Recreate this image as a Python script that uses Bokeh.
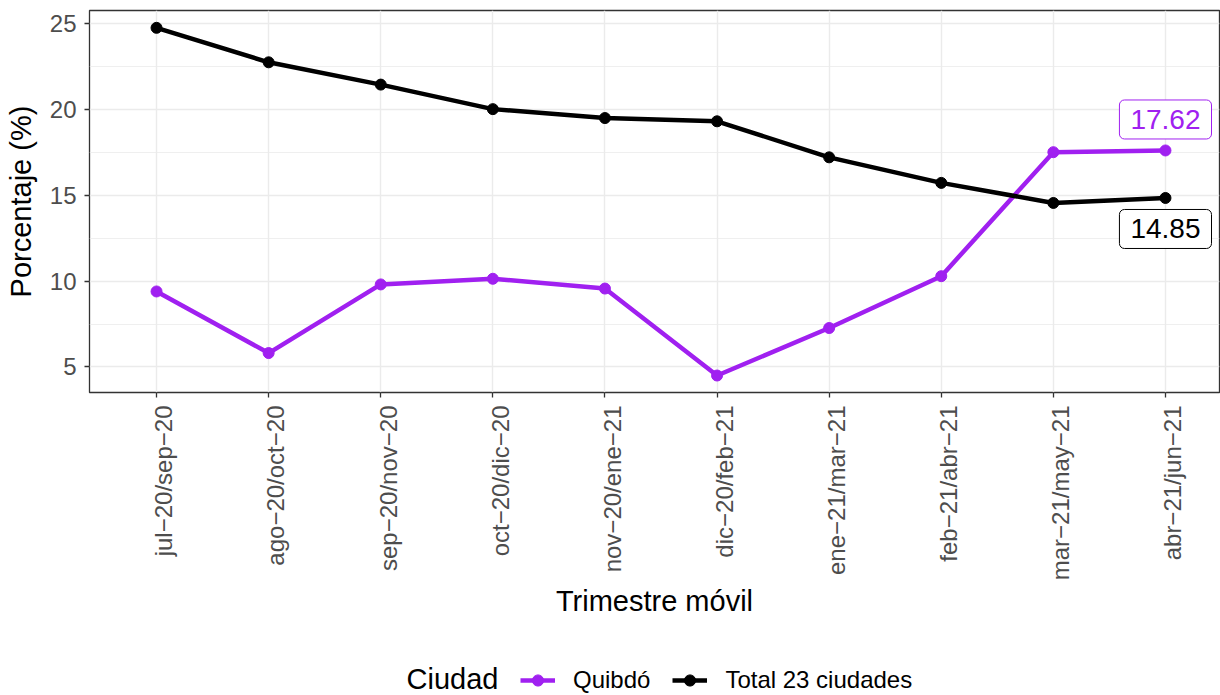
import numpy as np
from bokeh.plotting import figure
from bokeh.layouts import column
from bokeh.models import (FixedTicker, Legend, LegendItem, Label, Range1d, LinearAxis,
                          ColumnDataSource)
from bokeh.embed import file_html
from bokeh.resources import INLINE

# ---- data ----
trimestres = ["jul−20/sep−20", "ago−20/oct−20", "sep−20/nov−20", "oct−20/dic−20",
              "nov−20/ene−21", "dic−20/feb−21", "ene−21/mar−21", "feb−21/abr−21",
              "mar−21/may−21", "abr−21/jun−21"]
quibdo = [9.40, 5.81, 9.81, 10.14, 9.57, 4.50, 7.27, 10.29, 17.52, 17.62]
total = [24.77, 22.76, 21.46, 20.03, 19.51, 19.32, 17.22, 15.73, 14.56, 14.85]
series_names = ["Quibdó", "Total 23 ciudades"]
series_colors = ["#A020F0", "#000000"]
y_ticks = [5, 10, 15, 20, 25]
legend_title = "Ciudad"

FONT = "Liberation Sans"
idx = list(range(len(trimestres)))
X0, X1 = -0.598, 9.482
LAB_SHIFT = 0.065  # tick labels hang slightly to the right of their tick

p = figure(width=1220, height=655,
           x_range=Range1d(X0, X1), y_range=Range1d(3.51, 25.78),
           output_backend="svg", toolbar_location=None,
           min_border_left=89, min_border_right=1, min_border_top=10, min_border_bottom=263)
p.background_fill_color = "white"
p.border_fill_color = "white"
p.outline_line_color = "#333333"
p.outline_line_width = 1.3

# grids
p.xgrid.ticker = FixedTicker(ticks=idx)
p.xgrid.grid_line_color = "#EBEBEB"
p.xgrid.grid_line_width = 1.4
yt = FixedTicker(ticks=y_ticks, minor_ticks=[t + 2.5 for t in y_ticks[:-1]])
p.ygrid.ticker = yt
p.ygrid.grid_line_color = "#EBEBEB"
p.ygrid.grid_line_width = 1.4
p.ygrid.minor_grid_line_color = "#EBEBEB"
p.ygrid.minor_grid_line_width = 0.8

xax = p.xaxis[0]
yax = p.yaxis[0]
for ax in (xax, yax):
    ax.axis_line_color = None
    ax.major_tick_line_color = "#333333"
    ax.major_tick_line_width = 1.3
    ax.major_tick_out = 5
    ax.major_tick_in = 0
    ax.minor_tick_line_color = None
    ax.major_label_text_font = FONT
    ax.major_label_text_font_size = "24px"
    ax.major_label_text_color = "#4D4D4D"
    ax.axis_label_text_font = FONT
    ax.axis_label_text_font_size = "29px"
    ax.axis_label_text_font_style = "normal"
    ax.axis_label_text_color = "black"

yax.ticker = yt
yax.axis_label = "Porcentaje (%)"
yax.major_label_standoff = 8
yax.axis_label_standoff = 10

# main x axis: tick marks only
xax.ticker = FixedTicker(ticks=idx)
xax.major_label_overrides = {i: "" for i in idx}
xax.major_label_standoff = 0

# label axis (shifted range so rotated labels sit just right of the ticks)
p.extra_x_ranges = {"lab": Range1d(X0 - LAB_SHIFT, X1 - LAB_SHIFT)}
lab_ax = LinearAxis(x_range_name="lab", ticker=FixedTicker(ticks=idx),
                    major_label_overrides={i: t for i, t in zip(idx, trimestres)},
                    major_label_orientation=np.pi / 2, major_label_standoff=8,
                    major_tick_out=0, major_tick_in=0, major_tick_line_color=None,
                    minor_tick_line_color=None, axis_line_color=None,
                    major_label_text_font=FONT, major_label_text_font_size="24px",
                    major_label_text_color="#4D4D4D",
                    axis_label="Trimestre móvil", axis_label_standoff=2,
                    axis_label_text_font=FONT, axis_label_text_font_size="29px",
                    axis_label_text_font_style="normal", axis_label_text_color="black")
p.add_layout(lab_ax, "below")

# series
sources = []
for name, vals, col in zip(series_names, [quibdo, total], series_colors):
    src = ColumnDataSource(dict(x=idx, y=vals))
    sources.append(src)
    p.line("x", "y", source=src, line_color=col, line_width=4.5)
    p.scatter("x", "y", source=src, size=11, fill_color=col, line_color=col)

# end labels
for vals, col, off in zip([quibdo, total], series_colors, [31, -31]):
    p.add_layout(Label(x=idx[-1], y=vals[-1], y_offset=off, text=f"{vals[-1]:.2f}",
                       text_align="center", text_baseline="middle",
                       text_font=FONT, text_font_size="28px", text_color=col,
                       background_fill_color="white", border_line_color=col,
                       border_line_width=1, padding=(11, 10), border_radius=5))

# ---- legend strip (series renderers fall outside its view; only the legend shows) ----
pl = figure(width=1220, height=40, x_range=Range1d(0, 1), y_range=Range1d(0, 1),
            x_axis_type=None, y_axis_type=None, output_backend="svg",
            toolbar_location=None, min_border=0)
pl.outline_line_color = None
pl.grid.visible = False
pl.background_fill_color = "white"
items = []
for name, col, src in zip(series_names, series_colors, sources):
    lr = pl.line("x", "y", source=src, line_color=col, line_width=4.5)
    sr = pl.scatter("x", "y", source=src, size=11, fill_color=col, line_color=col)
    items.append(LegendItem(label=name, renderers=[lr, sr]))
legend = Legend(items=items, orientation="horizontal", location=(431, 1),
                label_text_font=FONT, label_text_font_size="24px", label_text_color="black",
                glyph_width=35, glyph_height=28, label_standoff=18, spacing=22,
                border_line_color=None, background_fill_alpha=0, padding=0, margin=0)
pl.add_layout(legend)
pl.add_layout(Label(x=409, y=17, x_units="screen", y_units="screen", text=legend_title,
                    text_align="right", text_baseline="middle",
                    text_font=FONT, text_font_size="29px", text_color="black"))

layout = column(p, pl, spacing=0)
open("out.html", "w").write(file_html(layout, INLINE))
